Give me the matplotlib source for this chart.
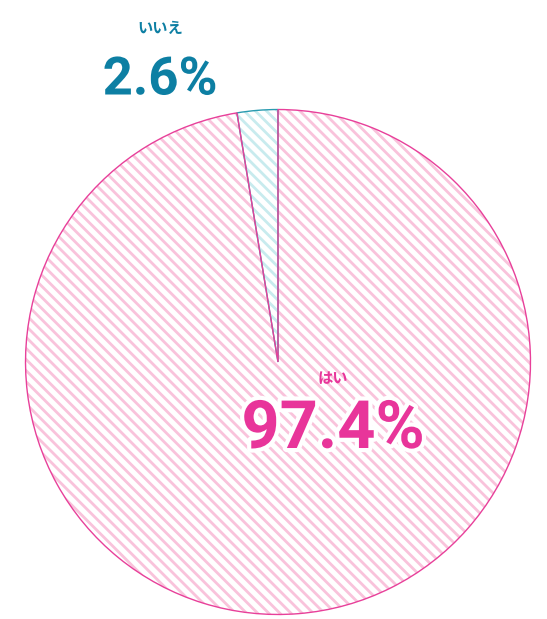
import matplotlib.pyplot as plt
import matplotlib.patheffects as pe

plt.rcParams['font.family'] = ['Noto Sans CJK JP', 'DejaVu Sans']
plt.rcParams['hatch.linewidth'] = 2.0

labels = ['いいえ', 'はい']
values = [2.6, 97.4]
hatch_cols = ['#c8ebee', '#f9c3db']
edge_cols = ['#2a9bb0', '#e8409a']
text_cols = ['#0d7fa3', '#e8359a']

W, H = 547, 619
fig = plt.figure(figsize=(W / 100, H / 100), dpi=100)
cx, cy, r = 278, 362, 255
ax = fig.add_axes([(cx - r) / W, (H - cy - r) / H, 2 * r / W, 2 * r / H])
wedges, _ = ax.pie(values, startangle=90, counterclock=True, radius=1)
for w, hc in zip(wedges, hatch_cols):
    w.set_facecolor('white')
    w.set_edgecolor(hc)
    w.set_hatch('\\\\\\')
    w.set_linewidth(0)
# outlines on top
wedges2, _ = ax.pie(values, startangle=90, counterclock=True, radius=1,
                    wedgeprops=dict(fill=False, linewidth=1.0))
for w, ec in zip(wedges2, edge_cols):
    w.set_edgecolor(ec)
ax.set_xlim(-1.01, 1.01)
ax.set_ylim(-1.01, 1.01)
ax.set_aspect('equal')
ax.axis('off')

pos = [(160, 28, 80), (333, 378, 430)]
for lab, v, col, (x, y1, y2) in zip(labels, values, text_cols, pos):
    fig.text(x / W, 1 - y1 / H, lab, color=col, fontsize=11, fontweight='bold',
             ha='center', va='center')
    t = fig.text(x / W, 1 - y2 / H, f'{v}%', color=col,
                 fontsize=38 if v < 50 else 48, fontweight='bold',
                 ha='center', va='center', family=['Roboto'])
    t.set_path_effects([pe.withStroke(linewidth=6, foreground='white')])

fig.savefig('out.png', dpi=100)
